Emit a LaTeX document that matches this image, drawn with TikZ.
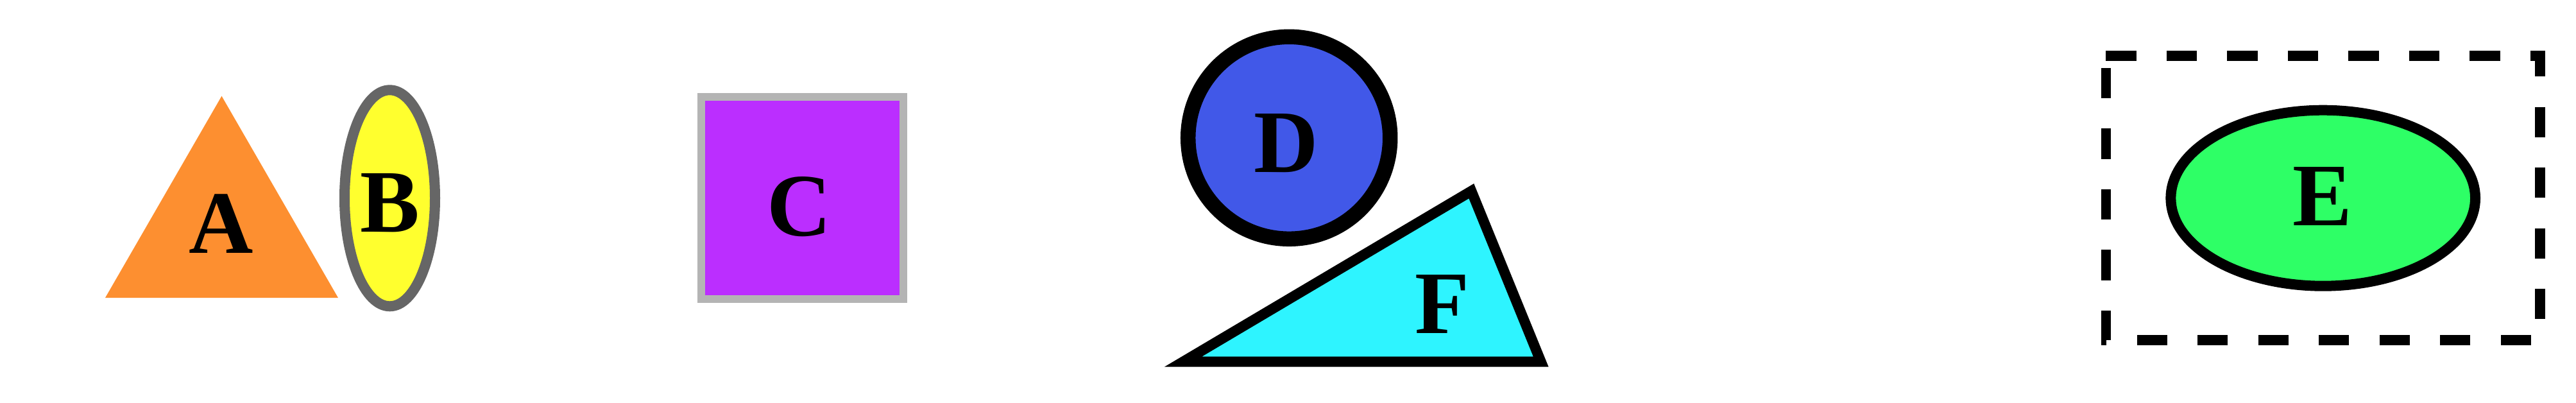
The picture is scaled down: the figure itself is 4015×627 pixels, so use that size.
\documentclass[tikz,border=0pt]{standalone}
\usepackage{fontspec}
\setmainfont{Liberation Serif}
\usepackage{xcolor}
\usetikzlibrary{shapes.geometric}
\definecolor{tanger}{HTML}{FD8F30}
\definecolor{lemon}{HTML}{FFFF2E}
\definecolor{ash}{HTML}{666666}
\definecolor{violet}{HTML}{BB2EFF}
\definecolor{silver}{HTML}{B4B4B4}
\definecolor{royal}{HTML}{4158E8}
\definecolor{aqua}{HTML}{2EF4FF}
\definecolor{mint}{HTML}{2EFF66}
\tikzset{
  flatshape/.style={inner sep=0pt, outer sep=0pt},
  triangleshape/.style={flatshape, regular polygon, regular polygon sides=3,
    fill=#1, minimum size=419.2pt},
  triangleshape/.default=tanger,
  ovalshape/.style={flatshape, ellipse, draw=#1, line width=16pt},
  ovalshape/.default=black,
  squareshape/.style={flatshape, rectangle, draw=silver, fill=violet,
    line width=12pt, minimum width=315pt, minimum height=315pt},
  discshape/.style={flatshape, circle, draw=black, fill=royal,
    line width=23.5pt, minimum size=315pt},
  wedgeshape/.style={draw=black, fill=aqua, line width=16pt, line join=miter},
  framedash/.style={draw=black, line width=15.7pt,
    dash pattern=on 47.25pt off 47.25pt},
  letterlabel/.style={font=\fontsize{139}{139}\selectfont\bfseries,
    anchor=base, inner sep=0pt},
}

\begin{document}
\begin{tikzpicture}[x=1pt, y=-1pt]
  \useasboundingbox (0,0) rectangle (4015,627);
  % left pair
  \node[triangleshape] (triA) at (345.5,359.3) {};
  \node[ovalshape=ash, fill=lemon, minimum width=141pt, minimum height=337pt] (ovalB) at (607.5,308.8) {};
  \node[letterlabel] (labA) at (344.5,394) {A};
  \node[letterlabel] (labB) at (608,361.6) {B};
  % square
  \node[squareshape] (boxC) at (1250.8,308.8) {};
  \node[letterlabel] (labC) at (1245.5,367) {C};
  % circle and wedge
  \node[discshape] (discD) at (2009.2,214.8) {};
  \node[letterlabel] (labD) at (2004.7,268.3) {D};
  \draw[wedgeshape] (1844,563.7) -- (2293.3,297.7) -- (2401.7,563.7) -- cycle;
  \node[letterlabel] (labF) at (2248.3,519.3) {F};
  % framed ellipse
  \node[ovalshape, fill=mint, minimum width=474.6pt, minimum height=274pt] (ovalE) at (3620.7,308.7) {};
  \node[flatshape, minimum width=676.7pt, minimum height=443pt] (frameE) at (ovalE.center) {};
  \draw[framedash] (frameE.north west) -- (frameE.north east)
    -- (frameE.south east) -- (frameE.south west) -- cycle;
  \node[letterlabel] (labE) at (3620,351.7) {E};
\end{tikzpicture}
\end{document}
